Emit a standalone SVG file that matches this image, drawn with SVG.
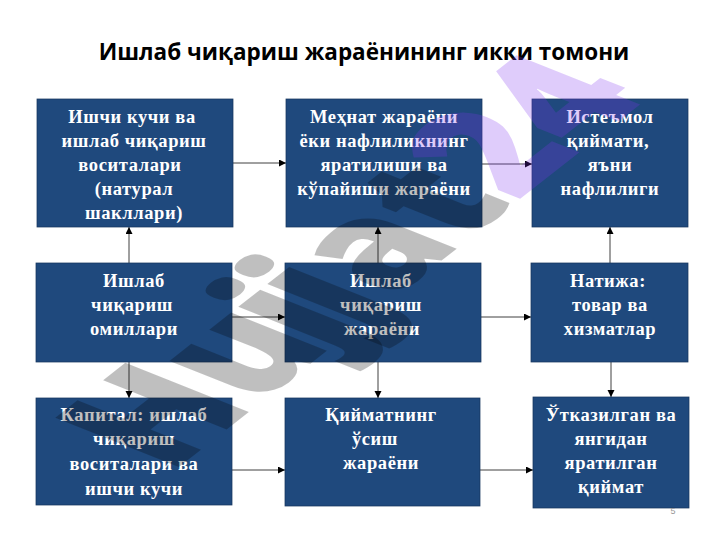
<svg xmlns="http://www.w3.org/2000/svg" width="720" height="540" viewBox="0 0 720 540">
<style>
.b{fill:#1f497d;stroke:#17375e;stroke-width:.75}
.t{font:bold 18.5px "Liberation Serif",serif;letter-spacing:.6px;fill:#fff;text-anchor:middle}
.c{stroke:#000;stroke-width:.75;fill:none;marker-end:url(#a)}
.w{font:800 100px "Open Sans",sans-serif}
</style>
<defs><marker id="a" markerUnits="userSpaceOnUse" markerWidth="8" markerHeight="8" refX="7" refY="3.5" orient="auto"><path d="M0 0L7 3.5L0 7Z" fill="#000"/></marker></defs>
<rect width="720" height="540" fill="#fff"/>
<text x="364" y="60" font-family="'Open Sans',sans-serif" font-weight="700" font-size="22.5" text-anchor="middle">Ишлаб чиқариш жараёнининг икки томони</text>
<g id="connectors">
<path class="c" d="M233 163H286"/><path class="c" d="M482 164H532"/>
<path class="c" d="M232 317H285"/><path class="c" d="M481 317H531"/>
<path class="c" d="M232 470H285"/><path class="c" d="M480 470H533"/>
<path class="c" d="M129 263V227"/><path class="c" d="M378 263V227"/><path class="c" d="M610 263V227"/>
<path class="c" d="M129 362V398"/><path class="c" d="M378 362V398"/><path class="c" d="M611 362V397"/>
</g>
<g id="n1"><rect class="b" x="37" y="99" width="196" height="128"/><text class="t"><tspan x="132" y="123">Ишчи кучи ва</tspan><tspan x="134" y="147">ишлаб чиқариш</tspan><tspan x="130" y="171">воситалари</tspan><tspan x="134" y="195">(натурал</tspan><tspan x="134" y="219">шакллари)</tspan></text></g>
<g id="n2"><rect class="b" x="286" y="99" width="196" height="128"/><text class="t"><tspan x="384" y="123">Меҳнат жараёни</tspan><tspan x="384" y="147">ёки нафлиликнинг</tspan><tspan x="384" y="171">яратилиши ва</tspan><tspan x="384" y="195">кўпайиши жараёни</tspan></text></g>
<g id="n3"><rect class="b" x="532" y="99" width="156" height="128"/><text class="t"><tspan x="610" y="123">Истеъмол</tspan><tspan x="608" y="147">қиймати,</tspan><tspan x="610" y="171">яъни</tspan><tspan x="610" y="195">нафлилиги</tspan></text></g>
<g id="n4"><rect class="b" x="36" y="263" width="196" height="99"/><text class="t"><tspan x="134" y="287">Ишлаб</tspan><tspan x="132" y="311">чиқариш</tspan><tspan x="134" y="335">омиллари</tspan></text></g>
<g id="n5"><rect class="b" x="285" y="263" width="196" height="99"/><text class="t"><tspan x="381" y="287">Ишлаб</tspan><tspan x="381" y="311">чиқариш</tspan><tspan x="382" y="335">жараёни</tspan></text></g>
<g id="n6"><rect class="b" x="531" y="263" width="157" height="99"/><text class="t"><tspan x="608" y="287">Натижа:</tspan><tspan x="610" y="311">товар ва</tspan><tspan x="610" y="335">хизматлар</tspan></text></g>
<g id="n7"><rect class="b" x="36" y="398" width="196" height="107"/><text class="t"><tspan x="134" y="421">Капитал: ишлаб</tspan><tspan x="134" y="445">чиқариш</tspan><tspan x="134" y="470">воситалари ва</tspan><tspan x="134" y="495">ишчи кучи</tspan></text></g>
<g id="n8"><rect class="b" x="285" y="398" width="195" height="108"/><text class="t"><tspan x="381" y="421">Қийматнинг</tspan><tspan x="375" y="445">ўсиш</tspan><tspan x="381" y="469">жараёни</tspan></text></g>
<g id="n9"><rect class="b" x="533" y="397" width="156" height="111"/><text class="t"><tspan x="611" y="421">Ўтказилган ва</tspan><tspan x="611" y="445">янгидан</tspan><tspan x="611" y="469">яратилган</tspan><tspan x="611" y="493">қиймат</tspan></text></g>
<text x="673" y="514" font-family="'Liberation Sans',sans-serif" font-size="9" fill="#999" text-anchor="middle">5</text>
<g id="watermark" transform="matrix(1.145 -.9 1.73 .69 170 474)"><text class="w" dx="0 0 -7 -7"><tspan fill="#000" fill-opacity=".25">Hujjat</tspan><tspan fill="#8032f0" fill-opacity=".25">24</tspan></text></g>
</svg>
